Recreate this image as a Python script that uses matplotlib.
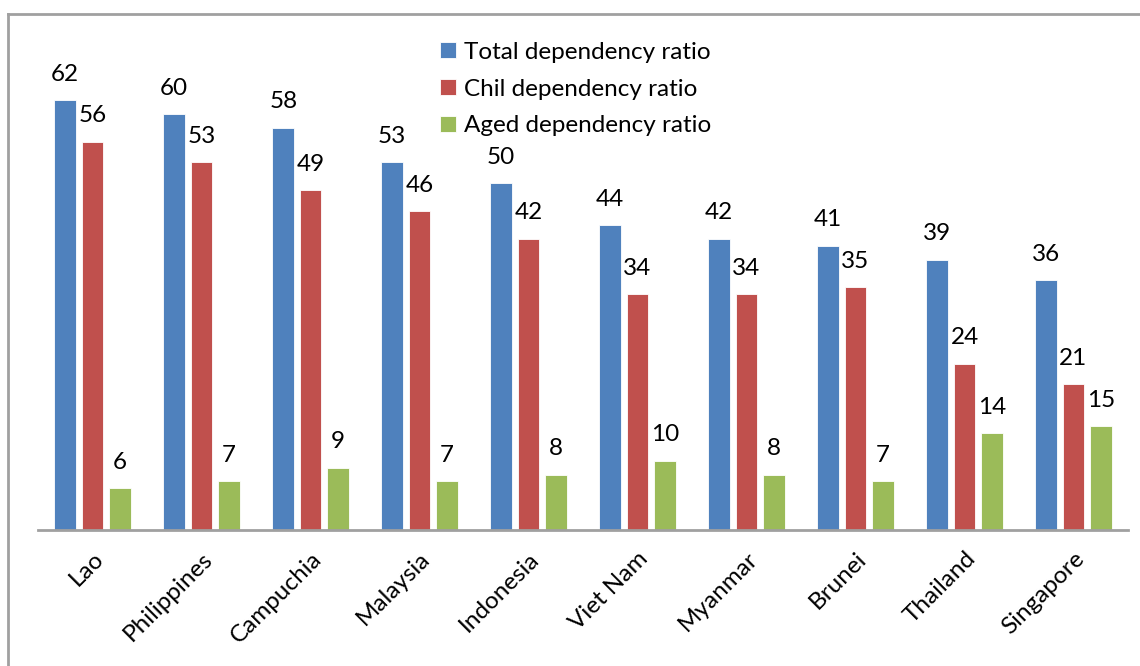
import numpy as np
from matplotlib import pyplot as plt
from matplotlib.lines import Line2D

countries = ['Lao', 'Philippines', 'Campuchia', 'Malaysia', 'Indonesia',
             'Viet Nam', 'Myanmar', 'Brunei', 'Thailand', 'Singapore']
total_ratio = [62, 60, 58, 53, 50, 44, 42, 41, 39, 36]
child_ratio = [56, 53, 49, 46, 42, 34, 34, 35, 24, 21]
aged_ratio = [6, 7, 9, 7, 8, 10, 8, 7, 14, 15]

series = [
    ('Total dependency ratio', total_ratio, '#4F81BD'),
    ('Chil dependency ratio', child_ratio, '#C0504D'),
    ('Aged dependency ratio', aged_ratio, '#9BBB59'),
]

plt.rcParams['font.family'] = ['Lato', 'DejaVu Sans']
fs = 17.5

W, H = 1140, 666
fig = plt.figure(figsize=(W / 100, H / 100), dpi=100)

# plot area in pixels: x 38..1128, baseline at y=530, 6.94 px per unit
ymax = 70
px_per_unit = 430 / 62
top_px = 530 - ymax * px_per_unit
ax = fig.add_axes([38 / W, (H - 530) / H, 1090 / W, (530 - top_px) / H])

x = np.arange(len(countries))
width = 0.2
for i, (name, vals, col) in enumerate(series):
    pos = x + (i - 1) * 0.25
    ax.bar(pos, vals, width, color=col, edgecolor='white', linewidth=0.6, label=name)
    for p, v in zip(pos, vals):
        ax.annotate(str(v), (p, v), xytext=(0, 11), textcoords='offset points',
                    ha='center', va='bottom', fontsize=fs)

ax.set_xlim(-0.5, len(countries) - 0.5)
ax.set_ylim(0, ymax)
ax.set_yticks([])
ax.set_xticks(x)
ax.set_xticklabels(countries, rotation=45, ha='right', rotation_mode='anchor', fontsize=fs)
ax.tick_params(axis='x', length=0, pad=13)
for s in ['top', 'right', 'left']:
    ax.spines[s].set_visible(False)
ax.spines['bottom'].set_color('#A0A0A0')
ax.spines['bottom'].set_linewidth(2)

leg = ax.legend(loc='upper left', bbox_to_anchor=((430 - 38) / 1090, 1.0 + (top_px - 32) / (530 - top_px)),
                frameon=False, fontsize=fs, handlelength=0.65, handleheight=0.65,
                handletextpad=0.35, labelspacing=0.65, borderaxespad=0)

# outer chart border (top and left visible)
fig.add_artist(Line2D([8 / W, 1], [1 - 14 / H, 1 - 14 / H], color='#A0A0A0', lw=2))
fig.add_artist(Line2D([8 / W, 8 / W], [0, 1 - 14 / H], color='#A0A0A0', lw=2))

fig.savefig('out.png', dpi=100)
